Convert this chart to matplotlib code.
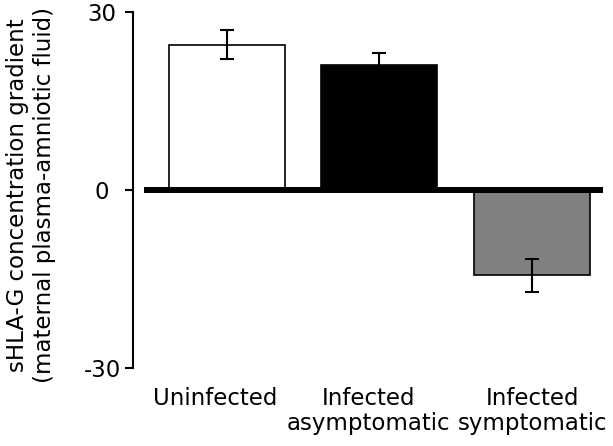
import matplotlib
matplotlib.use("Agg")
import matplotlib.pyplot as plt
import matplotlib.transforms as mtransforms
import numpy as np

categories = ["Uninfected", "Infected\nasymptomatic", "Infected\nsymptomatic"]
values = [24.5, 21.0, -14.4]
errors = [2.5, 2.1, 2.8]
bar_colors = ["white", "black", "#808080"]
yticks = [-30, 0, 30]
ytick_labels = ["-30", "0", "30"]
ylabel = "sHLA-G concentration gradient\n(maternal plasma-amniotic fluid)"

W, H = 613, 446
fig = plt.figure(figsize=(W / 100, H / 100), dpi=100)
ax = fig.add_axes([133 / W, 1 - 368 / H, 470 / W, 356 / H])

x = np.arange(len(categories))
ax.bar(x, values, width=0.76, color=bar_colors, edgecolor="black",
       linewidth=1.2, zorder=2)
ax.errorbar(x, values, yerr=errors, fmt="none", ecolor="black",
            elinewidth=1.5, capsize=5, capthick=1.5, zorder=4)
ax.axhline(0, xmin=14 / 470, xmax=1, color="black", lw=4.3, zorder=3)

ax.set_xlim(-0.616, 2.466)
ax.set_ylim(-30, 30)

for s in ["top", "right", "bottom"]:
    ax.spines[s].set_visible(False)
ax.spines["left"].set_linewidth(1.5)

ax.set_yticks(yticks, ytick_labels)
ax.tick_params(axis="y", length=5.8, width=1.5, labelsize=16.5, pad=16.5,
               direction="out")
for lbl in ax.get_yticklabels():
    lbl.set_horizontalalignment("center")

ax.set_xticks(x, categories)
ax.tick_params(axis="x", length=0, labelsize=16.5, pad=14)
label_shift_px = [-12, -11, 1]
for lbl, dx in zip(ax.get_xticklabels(), label_shift_px):
    lbl.set_linespacing(1.1)
    lbl.set_transform(lbl.get_transform() +
                      mtransforms.ScaledTranslation(dx / 100, 0, fig.dpi_scale_trans))

fig.text(31 / W, 1 - 195 / H, ylabel, rotation=90, ha="center", va="center",
         fontsize=16.5, linespacing=1.2)

fig.savefig("out.png", dpi=100)
